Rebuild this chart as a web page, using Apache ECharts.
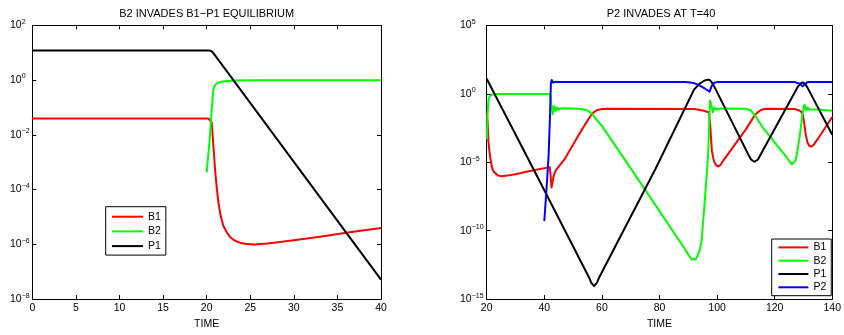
<!DOCTYPE html>
<html><head><meta charset="utf-8">
<script src="https://cdn.jsdelivr.net/npm/echarts@6/dist/echarts.min.js"></script>
<style>html,body{margin:0;padding:0;background:#fff}#c{width:844px;height:335px}</style>
</head><body><div id="c"></div>
<script>
// All series values are log10 of the plotted quantity (axes are decades).
const leftTitle = 'B2 INVADES B1\u2212P1 EQUILIBRIUM';
const rightTitle = 'P2 INVADES AT T=40';
const seriesNamesLeft = ['B1', 'B2', 'P1'];
const seriesNamesRight = ['B1', 'B2', 'P1', 'P2'];

// ---- left panel ----
const leftTimeB1 = [0, 20.2, 20.4, 20.58, 20.75, 20.96, 21.15, 21.34, 21.6, 21.9, 22.3, 22.68, 23.2, 23.8, 24.6, 25.5, 27, 30, 33, 36, 40];
const leftB1 = [-1.40, -1.40, -1.45, -1.55, -2.3, -3.25, -3.9, -4.46, -4.95, -5.31, -5.56, -5.73, -5.86, -5.94, -5.99, -6.01, -5.97, -5.85, -5.72, -5.58, -5.40];
const leftTimeB2 = [20.0, 20.2, 20.38, 20.58, 20.77, 20.95, 21.15, 21.5, 21.9, 22.5, 23.2, 25, 40];
const leftB2 = [-3.37, -2.7, -2.04, -1.07, -0.34, -0.2, -0.12, -0.08, -0.05, -0.03, -0.02, -0.01, -0.01];
const leftTimeP1 = [0, 20.3, 20.6, 20.9, 40];
const leftP1 = [1.08, 1.08, 1.05, 0.93, -7.29];

// ---- right panel ----
const rightTimeB1 = [20, 20.3, 20.6, 21, 21.5, 22, 22.5, 23, 24, 25.2, 27, 30, 35, 41.9, 42.2, 42.5, 42.9, 43.4, 44, 44.5, 47, 52, 54, 55.5, 56.5, 57.5, 58.5, 60, 62, 92, 95, 97.2, 97.7, 98.2, 98.9, 99.6, 100.4, 101.2, 102.1, 110, 113, 114, 115, 116, 117, 127, 128.3, 129.2, 129.8, 130.3, 130.8, 131.4, 132, 132.7, 133.5, 134.3, 135, 140];
const rightB1 = [-1.38, -2.0, -3.5, -4.3, -5.0, -5.5, -5.72, -5.85, -5.98, -6.03, -5.98, -5.88, -5.65, -5.36, -6.0, -6.85, -6.4, -5.9, -5.6, -5.55, -4.8, -3.0, -2.3, -1.8, -1.5, -1.3, -1.18, -1.12, -1.1, -1.12, -1.22, -1.35, -2.5, -4.2, -4.9, -5.2, -5.32, -5.2, -4.9, -2.6, -1.6, -1.38, -1.22, -1.13, -1.1, -1.12, -1.2, -1.3, -1.55, -2.2, -3.0, -3.55, -3.8, -3.86, -3.75, -3.5, -3.3, -1.7];
const rightTimeB2 = [20, 20.3, 20.6, 21, 22, 23, 42, 42.4, 42.9, 43.4, 43.9, 44.4, 45, 46, 50, 53, 55, 56.5, 58, 59, 60, 75, 89, 90.3, 91.2, 91.8, 92.5, 93.2, 94, 94.6, 95.5, 96.3, 96.9, 97.3, 97.6, 98.1, 98.6, 99.1, 99.7, 101, 110, 111.5, 112.5, 114, 116, 120, 124, 125.2, 126, 126.6, 127.2, 127.8, 128.4, 129, 129.6, 130.1, 130.4, 130.9, 131.4, 132, 135, 140];
const rightB2 = [-3.33, -1.5, -0.5, -0.2, -0.05, -0.01, -0.01, -0.66, -1.5, -0.9, -1.25, -1.0, -1.15, -1.06, -1.08, -1.12, -1.22, -1.45, -1.85, -2.1, -2.35, -7.0, -11.4, -11.85, -12.1, -12.17, -12.1, -11.85, -11.4, -10.8, -8.5, -6.2, -4.5, -2.0, -0.5, -0.9, -1.35, -1.0, -1.15, -1.08, -1.1, -1.2, -1.4, -1.85, -2.5, -3.55, -4.6, -4.95, -5.15, -5.15, -4.9, -4.3, -3.5, -2.6, -1.6, -0.95, -0.8, -1.2, -1.0, -1.15, -1.15, -1.25];
const rightTimeP1 = [20, 36, 55.5, 56.3, 57.3, 58.3, 59.1, 78.6, 92, 94, 95.5, 96.7, 97.5, 98.1, 98.7, 111, 111.8, 112.4, 113, 113.6, 114.2, 115, 128, 129.2, 129.9, 130.6, 131.4, 140];
const rightP1 = [1.1, -5.4, -13.4, -13.8, -14.05, -13.8, -13.4, -5.5, 0.3, 0.75, 0.95, 1.03, 1.0, 0.85, 0.67, -4.5, -4.8, -4.93, -4.97, -4.93, -4.8, -4.5, 0.5, 0.78, 0.82, 0.7, 0.45, -3.0];
const rightTimeP2 = [40, 40.5, 41, 41.5, 42, 42.3, 42.6, 43, 44, 45, 89, 92, 94, 96, 97.4, 98.2, 99, 100, 127, 128.5, 129.7, 130.5, 131.5, 140];
const rightP2 = [-9.3, -7.8, -6.2, -4.5, -1.5, 0.8, 1.0, 0.82, 0.88, 0.85, 0.85, 0.78, 0.6, 0.35, 0.15, 0.6, 0.8, 0.85, 0.85, 0.75, 0.55, 0.7, 0.85, 0.85];

// tick settings (x in TIME units, y in decades)
const leftXTicks = {min: 0, max: 40, interval: 5};
const leftYTicks = {min: -8, max: 2, interval: 2};
const rightXTicks = {min: 20, max: 140, interval: 20};
const rightYTicks = {min: -15, max: 5, interval: 5};

const FF = '"Liberation Sans", Arial, Helvetica, sans-serif';
const colors = {B1: '#ff0000', B2: '#00ff00', P1: '#000000', P2: '#0000ff'};

function zip(xs, ys) { return xs.map((x, i) => [x, ys[i]]); }
function expLabel(v) {
  const e = Math.round(v);
  const s = e < 0 ? '\u2212' + (-e) : String(e);
  return '{b|10}{s|' + s + '}';
}
function xAxis(gi, t, pos, main) {
  return {
    type: 'value', gridIndex: gi, min: t.min, max: t.max, interval: t.interval, position: pos,
    axisLine: {show: true, onZero: false, lineStyle: {color: '#000', width: 1}},
    axisTick: {show: true, inside: true, length: 4, lineStyle: {color: '#000', width: 1}},
    axisLabel: {show: main, color: '#000', fontSize: 10.5, fontFamily: FF, margin: 4, showMinLabel: true, showMaxLabel: true},
    splitLine: {show: false},
    name: main ? 'TIME' : '', nameLocation: 'middle', nameGap: 16,
    nameTextStyle: {color: '#000', fontSize: 10.5, fontFamily: FF}
  };
}
function yAxis(gi, t, pos, main, margin) {
  return {
    type: 'value', gridIndex: gi, min: t.min, max: t.max, interval: t.interval, position: pos,
    axisLine: {show: true, onZero: false, lineStyle: {color: '#000', width: 1}},
    axisTick: {show: true, inside: true, length: 4, lineStyle: {color: '#000', width: 1}},
    axisLabel: {
      show: main, align: 'left', margin: margin, formatter: expLabel, showMinLabel: true, showMaxLabel: true,
      rich: {
        b: {fontSize: 10.5, fontFamily: FF, color: '#000', lineHeight: 14},
        s: {fontSize: 7, fontFamily: FF, color: '#000', lineHeight: 8, verticalAlign: 'top'}
      }
    },
    splitLine: {show: false}
  };
}
function line(name, xs, ys, axisIdx) {
  return {
    type: 'line', name: name, xAxisIndex: axisIdx, yAxisIndex: axisIdx,
    data: zip(xs, ys), symbol: 'none', showSymbol: false, smooth: false,
    color: colors[name], lineStyle: {color: colors[name], width: 2, join: 'round'},
    animation: false, z: name === 'P2' ? 3 : 2
  };
}
function legend(names, left, top, padding, itemWidth, itemGap) {
  return {
    data: names.map(n => ({name: n, icon: 'rect', itemStyle: {color: colors[n]}})),
    orient: 'vertical', left: left, top: top, padding: padding,
    itemWidth: itemWidth, itemHeight: 2, itemGap: itemGap,
    borderColor: '#000', borderWidth: 1, backgroundColor: '#fff', selectedMode: false,
    textStyle: {fontSize: 10.5, color: '#000', fontFamily: FF, lineHeight: 12}
  };
}

const chart = echarts.init(document.getElementById('c'), null, {renderer: 'canvas'});
chart.setOption({
  backgroundColor: '#fff',
  animation: false,
  title: [
    {text: leftTitle, left: 206.7, top: 8, textAlign: 'center', padding: 0,
     textStyle: {fontSize: 11, fontWeight: 'normal', color: '#000', fontFamily: FF}},
    {text: rightTitle, left: 661, top: 8, textAlign: 'center', padding: 0,
     textStyle: {fontSize: 11, fontWeight: 'normal', color: '#000', fontFamily: FF}}
  ],
  grid: [
    {left: 32.3, top: 25.3, width: 348.7, height: 275.4},
    {left: 486.7, top: 25.3, width: 348.3, height: 275.4}
  ],
  xAxis: [
    xAxis(0, leftXTicks, 'bottom', true), xAxis(0, leftXTicks, 'top', false),
    xAxis(1, rightXTicks, 'bottom', true), xAxis(1, rightXTicks, 'top', false)
  ],
  yAxis: [
    yAxis(0, leftYTicks, 'left', true, 22.3), yAxis(0, leftYTicks, 'right', false, 0),
    yAxis(1, rightYTicks, 'left', true, 26.7), yAxis(1, rightYTicks, 'right', false, 0)
  ],
  legend: [
    legend(seriesNamesLeft, 105.7, 206.7, [4, 5, 3, 6.3], 31, 2.7),
    legend(seriesNamesRight, 771.7, 239, [2.4, 5, 2.4, 6.7], 30, 1.3)
  ],
  series: [
    line('B1', leftTimeB1, leftB1, 0),
    line('B2', leftTimeB2, leftB2, 0),
    line('P1', leftTimeP1, leftP1, 0),
    line('B1', rightTimeB1, rightB1, 2),
    line('B2', rightTimeB2, rightB2, 2),
    line('P1', rightTimeP1, rightP1, 2),
    line('P2', rightTimeP2, rightP2, 2)
  ]
});
</script></body></html>
